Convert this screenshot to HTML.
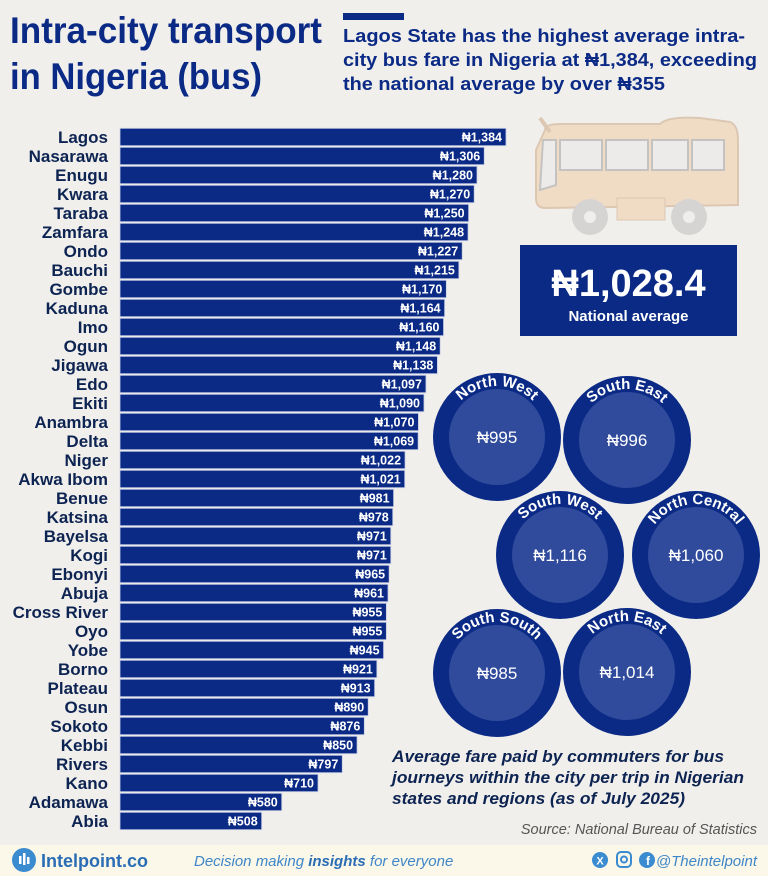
<!DOCTYPE html>
<html><head><meta charset="utf-8"><style>
html,body{margin:0;padding:0;background:#f1efec;}
svg{display:block}
</style></head><body>
<svg width="768" height="876" viewBox="0 0 768 876" xmlns="http://www.w3.org/2000/svg" font-family="'Liberation Sans','DejaVu Sans',sans-serif">
<rect width="768" height="876" fill="#f1efec"/>
<text x="10" y="43" font-size="37" font-weight="bold" fill="#0a2a85" textLength="312" lengthAdjust="spacingAndGlyphs">Intra-city transport</text>
<text x="10" y="89" font-size="37" font-weight="bold" fill="#0a2a85" textLength="252" lengthAdjust="spacingAndGlyphs">in Nigeria (bus)</text>
<rect x="343" y="13" width="61" height="7" fill="#0a2a85"/>
<g font-size="18.5" font-weight="bold" fill="#0a2a85">
<text x="343" y="42" textLength="402" lengthAdjust="spacingAndGlyphs">Lagos State has the highest average intra-</text>
<text x="343" y="66" textLength="414" lengthAdjust="spacingAndGlyphs">city bus fare in Nigeria at ₦1,384, exceeding</text>
<text x="343" y="90" textLength="322" lengthAdjust="spacingAndGlyphs">the national average by over ₦355</text>
</g>
<g opacity="0.5">
<path d="M545 130 Q545 124 560 124 L660 124 Q668 116 700 118 L730 122 Q738 125 738 140 L738 205 L545 208 Q536 208 536 198 L536 150 Z" fill="#f0c9a0" stroke="#c9a07a" stroke-width="2"/>
<rect x="560" y="140" width="42" height="30" fill="#e8e8ea" stroke="#999" stroke-width="2"/>
<rect x="606" y="140" width="42" height="30" fill="#e8e8ea" stroke="#999" stroke-width="2"/>
<rect x="652" y="140" width="36" height="30" fill="#e8e8ea" stroke="#999" stroke-width="2"/>
<rect x="692" y="140" width="32" height="30" fill="#e8e8ea" stroke="#999" stroke-width="2"/>
<path d="M543 140 L556 140 L556 185 L540 190 Z" fill="#e8e8ea" stroke="#999" stroke-width="2"/>
<rect x="617" y="198" width="48" height="22" fill="#f0c9a0" stroke="#c9a07a"/>
<path d="M540 118 L550 132" stroke="#c9a07a" stroke-width="4"/>
<circle cx="590" cy="217" r="18" fill="#bbb"/><circle cx="590" cy="217" r="6" fill="#eee"/>
<circle cx="689" cy="217" r="18" fill="#bbb"/><circle cx="689" cy="217" r="6" fill="#eee"/>
</g>
<rect x="520" y="245" width="217" height="91" fill="#0a2a85"/>
<text x="628.5" y="296" font-size="38" font-weight="bold" fill="#fff" text-anchor="middle">₦1,028.4</text>
<text x="628.5" y="321" font-size="15" font-weight="bold" fill="#fff" text-anchor="middle">National average</text>
<g id="bars"></g>
<defs>
<path id="arc" d="M-51 0 A51 51 0 0 1 51 0"/>
</defs>
<g font-weight="bold">
<g transform="translate(497,437)"><circle r="64" fill="#0a2a85"/><circle r="48" fill="#304b9c"/><text font-size="15" fill="#fff"><textPath href="#arc" startOffset="50%" text-anchor="middle">North West</textPath></text><text y="6" font-size="17" font-weight="normal" fill="#fff" text-anchor="middle">₦995</text></g>
<g transform="translate(627,440)"><circle r="64" fill="#0a2a85"/><circle r="48" fill="#304b9c"/><text font-size="15" fill="#fff"><textPath href="#arc" startOffset="50%" text-anchor="middle">South East</textPath></text><text y="6" font-size="17" font-weight="normal" fill="#fff" text-anchor="middle">₦996</text></g>
<g transform="translate(560,555)"><circle r="64" fill="#0a2a85"/><circle r="48" fill="#304b9c"/><text font-size="15" fill="#fff"><textPath href="#arc" startOffset="50%" text-anchor="middle">South West</textPath></text><text y="6" font-size="17" font-weight="normal" fill="#fff" text-anchor="middle">₦1,116</text></g>
<g transform="translate(696,555)"><circle r="64" fill="#0a2a85"/><circle r="48" fill="#304b9c"/><text font-size="15" fill="#fff"><textPath href="#arc" startOffset="50%" text-anchor="middle">North Central</textPath></text><text y="6" font-size="17" font-weight="normal" fill="#fff" text-anchor="middle">₦1,060</text></g>
<g transform="translate(497,673)"><circle r="64" fill="#0a2a85"/><circle r="48" fill="#304b9c"/><text font-size="15" fill="#fff"><textPath href="#arc" startOffset="50%" text-anchor="middle">South South</textPath></text><text y="6" font-size="17" font-weight="normal" fill="#fff" text-anchor="middle">₦985</text></g>
<g transform="translate(627,672)"><circle r="64" fill="#0a2a85"/><circle r="48" fill="#304b9c"/><text font-size="15" fill="#fff"><textPath href="#arc" startOffset="50%" text-anchor="middle">North East</textPath></text><text y="6" font-size="17" font-weight="normal" fill="#fff" text-anchor="middle">₦1,014</text></g>
</g>
<g font-size="17" font-weight="bold" font-style="italic" fill="#0d2452">
<text x="392" y="762" textLength="332" lengthAdjust="spacingAndGlyphs">Average fare paid by commuters for bus</text>
<text x="392" y="783" textLength="352" lengthAdjust="spacingAndGlyphs">journeys within the city per trip in Nigerian</text>
<text x="392" y="804" textLength="293" lengthAdjust="spacingAndGlyphs">states and regions (as of July 2025)</text>
</g>
<text x="757" y="834" font-size="14.5" font-style="italic" fill="#555" text-anchor="end">Source: National Bureau of Statistics</text>
<rect x="0" y="845" width="768" height="31" fill="#fbf8e9"/>
<circle cx="24" cy="860" r="12" fill="#3a8bd0"/>
<rect x="19" y="856" width="2.5" height="8" fill="#fff"/><rect x="23" y="853" width="2.5" height="12" fill="#fff"/><rect x="27" y="857" width="2.5" height="7" fill="#fff"/>
<text x="41" y="867" font-size="18" font-weight="bold" fill="#2a6db5">Intelpoint.co</text>
<text x="194" y="866" font-size="15" font-style="italic" fill="#3f86c8">Decision making <tspan font-weight="bold" fill="#2a6db5">insights</tspan> for everyone</text>
<circle cx="600" cy="860" r="8" fill="#3a8bd0"/><text x="600" y="864.5" font-size="11" font-weight="bold" fill="#fff" text-anchor="middle">X</text>
<rect x="617" y="852" width="14" height="15" rx="4" fill="none" stroke="#3a8bd0" stroke-width="2"/><circle cx="624" cy="859.5" r="3" fill="none" stroke="#3a8bd0" stroke-width="2"/>
<circle cx="647" cy="860" r="8" fill="#3a8bd0"/><text x="648" y="865" font-size="12" font-weight="bold" fill="#fff" text-anchor="middle">f</text>
<text x="757" y="866" font-size="15" font-style="italic" fill="#3f86c8" text-anchor="end">@Theintelpoint</text>
</svg>
<script>
var d=[["Lagos",1384],["Nasarawa",1306],["Enugu",1280],["Kwara",1270],["Taraba",1250],["Zamfara",1248],["Ondo",1227],["Bauchi",1215],["Gombe",1170],["Kaduna",1164],["Imo",1160],["Ogun",1148],["Jigawa",1138],["Edo",1097],["Ekiti",1090],["Anambra",1070],["Delta",1069],["Niger",1022],["Akwa Ibom",1021],["Benue",981],["Katsina",978],["Bayelsa",971],["Kogi",971],["Ebonyi",965],["Abuja",961],["Cross River",955],["Oyo",955],["Yobe",945],["Borno",921],["Plateau",913],["Osun",890],["Sokoto",876],["Kebbi",850],["Rivers",797],["Kano",710],["Adamawa",580],["Abia",508]];
var g=document.getElementById('bars'),h='';
var sp=(821-137)/(d.length-1);
d.forEach(function(r,i){
 var cy=137+i*sp, w=r[1]*386/1384;
 var v=r[1].toLocaleString('en-US');
 h+='<rect x="120" y="'+(cy-8.7)+'" width="'+w+'" height="17.4" fill="#0a2a85" stroke="#c9d0e6" stroke-width="0.8"/>';
 h+='<text x="108" y="'+(cy+6)+'" font-size="17" font-weight="bold" fill="#0d2452" text-anchor="end">'+r[0]+'</text>';
 h+='<text x="'+(120+w-4)+'" y="'+(cy+4.5)+'" font-size="12.5" font-weight="bold" fill="#fff" text-anchor="end">₦'+v+'</text>';
});
g.innerHTML=h;
</script>
</body></html>
